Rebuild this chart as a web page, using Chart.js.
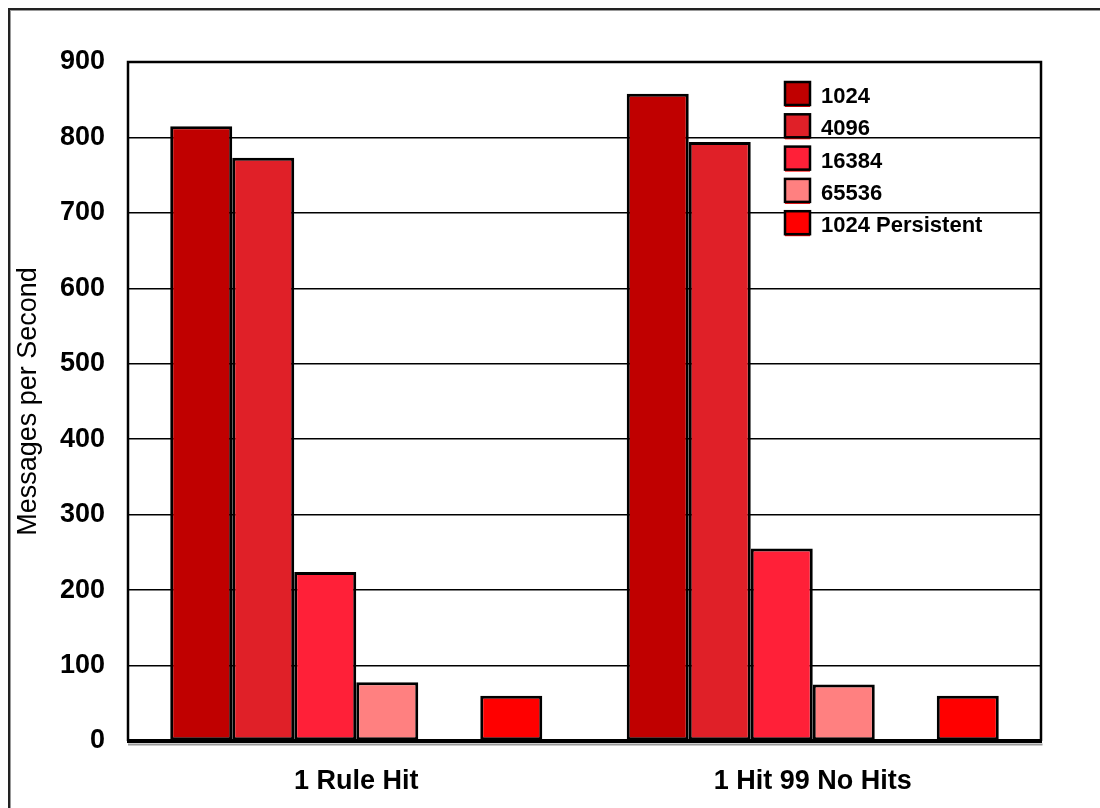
<!DOCTYPE html>
<html>
<head>
<meta charset="utf-8">
<script src="https://cdn.jsdelivr.net/npm/chart.js@4"></script>
<style>
  html, body { margin: 0; padding: 0; background: #fff; }
  #wrap { width: 1100px; height: 808px; position: relative; }
</style>
</head>
<body>
<div id="wrap"><canvas id="myGraph" width="1100" height="808"></canvas></div>
<script>
var categories = ["1 Rule Hit", "1 Hit 99 No Hits"];
var seriesNames = ["1024", "4096", "16384", "65536", "", "1024 Persistent"];
var seriesValues = [
  [815, 858],
  [773, 794],
  [224, 255],
  [78, 75],
  [null, null],
  [60, 60]
];
var barColors = ["#c00000", "#e02028", "#ff2038", "#ff8080", "#ffffff", "#ff0000"];
var yTicks = [0, 100, 200, 300, 400, 500, 600, 700, 800, 900];

document.addEventListener("DOMContentLoaded", function(){
  makeChart();
});

function makeChart(){
  let target = document.getElementById("myGraph");

  let datasets = seriesNames.map(function(name, i){
    return {
      label: name,
      data: seriesValues[i],
      backgroundColor: barColors[i],
      borderColor: "#000",
      borderWidth: 3,
      borderSkipped: false,
      categoryPercentage: 0.815,
      barPercentage: 1.0
    };
  });

  // frame, thick base line and outer border
  let framePlugin = {
    id: "frame",
    beforeDraw: function(chart){
      let ctx = chart.ctx;
      ctx.save();
      ctx.fillStyle = "#fff";
      ctx.fillRect(0, 0, chart.width, chart.height);
      ctx.strokeStyle = "#999";
      ctx.lineWidth = 1;
      ctx.strokeRect(10.5, 10.5, 1200, 1000);
      ctx.strokeStyle = "#222";
      ctx.lineWidth = 2;
      ctx.strokeRect(9, 9, 1200, 1000);
      ctx.restore();
    },
    afterDatasetsDraw: function(chart){
      let ctx = chart.ctx;
      let a = chart.chartArea;
      ctx.save();
      ctx.strokeStyle = "#000";
      ctx.lineWidth = 2.5;
      ctx.beginPath();
      ctx.moveTo(a.left, a.bottom);
      ctx.lineTo(a.left, a.top);
      ctx.lineTo(a.right, a.top);
      ctx.lineTo(a.right, a.bottom);
      ctx.stroke();
      ctx.strokeStyle = "#999";
      ctx.lineWidth = 2;
      ctx.beginPath();
      ctx.moveTo(a.left, a.bottom + 3.5);
      ctx.lineTo(a.right + 1.5, a.bottom + 3.5);
      ctx.stroke();
      ctx.strokeStyle = "#000";
      ctx.lineWidth = 4;
      ctx.beginPath();
      ctx.moveTo(a.left - 1, a.bottom);
      ctx.lineTo(a.right + 1, a.bottom);
      ctx.stroke();

      // legend inside the plot
      let x = 785, y = 82, step = 32.3, row = 0;
      ctx.font = "bold 22px 'Liberation Sans', Arial, sans-serif";
      ctx.textBaseline = "middle";
      ctx.textAlign = "left";
      chart.data.datasets.forEach(function(ds){
        if (!ds.label) return;
        let top = y + row * step;
        ctx.fillStyle = "#ff0000";
        ctx.fillRect(x, top + 22, 25, 3);
        ctx.fillStyle = ds.backgroundColor;
        ctx.fillRect(x, top, 25, 23);
        ctx.strokeStyle = "#000";
        ctx.lineWidth = 2.5;
        ctx.strokeRect(x, top, 25, 23);
        ctx.fillStyle = "#000";
        ctx.fillText(ds.label, 821, top + 15);
        row++;
      });
      ctx.restore();
    }
  };

  new Chart(target, {
    type: "bar",
    data: {
      labels: categories,
      datasets: datasets
    },
    options: {
      responsive: false,
      animation: false,
      layout: { padding: { left: 0, top: 62, right: 59, bottom: 0 } },
      plugins: {
        legend: { display: false },
        tooltip: { enabled: false }
      },
      scales: {
        x: {
          grid: { display: false, drawTicks: false },
          border: { display: false },
          ticks: {
            color: "#000",
            padding: 24,
            font: { family: "'Liberation Sans', Arial, sans-serif", size: 27, weight: "bold" }
          },
          afterFit: function(scale){ scale.height = 67; }
        },
        y: {
          min: 0,
          max: 900,
          afterBuildTicks: function(scale){
            scale.ticks = yTicks.map(function(v){ return { value: v }; });
          },
          grid: { color: "#000", lineWidth: 1.5, drawTicks: false },
          border: { display: false },
          ticks: {
            color: "#000",
            padding: 23,
            font: { family: "'Liberation Sans', Arial, sans-serif", size: 27, weight: "bold" }
          },
          title: {
            display: true,
            text: "Messages per Second",
            color: "#000",
            padding: { top: 12, bottom: 0 },
            font: { family: "'Liberation Sans', Arial, sans-serif", size: 27, weight: "normal" }
          },
          afterFit: function(scale){ scale.width = 128; }
        }
      }
    },
    plugins: [framePlugin]
  });
}
</script>
</body>
</html>
